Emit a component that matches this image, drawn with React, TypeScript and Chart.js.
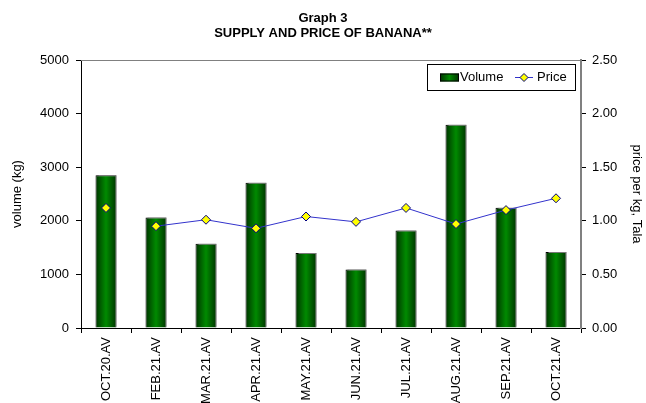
import React, { useEffect, useRef } from "react";
import { Chart, registerables } from "chart.js";

Chart.register(...registerables);

const categories = [
  "OCT.20.AV",
  "FEB.21.AV",
  "MAR.21.AV",
  "APR.21.AV",
  "MAY.21.AV",
  "JUN.21.AV",
  "JUL.21.AV",
  "AUG.21.AV",
  "SEP.21.AV",
  "OCT.21.AV",
];
const volumeKg = [2850, 2060, 1570, 2710, 1400, 1090, 1820, 3790, 2245, 1420];
const priceTala = [1.12, 0.95, 1.01, 0.93, 1.04, 0.99, 1.12, 0.97, 1.1, 1.21];
const volumeTicks = [0, 1000, 2000, 3000, 4000, 5000];
const priceTicks = [0, 0.5, 1, 1.5, 2, 2.5];

const FONT = "Arial, 'Liberation Sans', Helvetica, sans-serif";
const FS = 13;
const BAR_PCT = 0.42;

function barGradient(c: any) {
  if (c.type !== "data") return "#006600";
  const chart = c.chart;
  const xs = chart.scales && chart.scales.x;
  if (!xs || xs.width == null || !chart.chartArea) return "#006600";
  const cx = xs.getPixelForValue(c.dataIndex);
  const half = ((xs.width / categories.length) * BAR_PCT) / 2;
  if (!isFinite(cx)) return "#006600";
  const g = chart.ctx.createLinearGradient(cx - half, 0, cx + half, 0);
  g.addColorStop(0, "#003300");
  g.addColorStop(0.5, "#008a00");
  g.addColorStop(1, "#003300");
  return g;
}

const framePlugin = {
  id: "frame",
  beforeDatasetDraw(chart: any, args: any) {
    if (args.index === 0) {
      const ctx = chart.ctx;
      ctx.save();
      ctx.shadowColor = "rgba(150,150,150,0.8)";
      ctx.shadowOffsetX = 2;
      ctx.shadowOffsetY = -1;
      ctx.shadowBlur = 0;
    }
  },
  afterDatasetDraw(chart: any, args: any) {
    if (args.index === 0) chart.ctx.restore();
  },
  beforeDatasetsDraw(chart: any) {
    const { ctx, chartArea } = chart;
    ctx.save();
    ctx.strokeStyle = "#808080";
    ctx.lineWidth = 1;
    ctx.beginPath();
    ctx.moveTo(chartArea.left, chartArea.top + 0.5);
    ctx.lineTo(chartArea.right, chartArea.top + 0.5);
    ctx.stroke();
    ctx.restore();
  },
  afterDraw(chart: any) {
    const { ctx } = chart;
    const bx = 427;
    const by = 64;
    const bw = 148;
    const bh = 26;
    ctx.save();
    ctx.fillStyle = "#ffffff";
    ctx.fillRect(bx, by, bw, bh);
    ctx.strokeStyle = "#000000";
    ctx.lineWidth = 1;
    ctx.strokeRect(bx + 0.5, by + 0.5, bw, bh);
    const cy = by + bh / 2 + 0.5;
    const g = ctx.createLinearGradient(440, 0, 459, 0);
    g.addColorStop(0, "#003300");
    g.addColorStop(0.5, "#008a00");
    g.addColorStop(1, "#003300");
    ctx.fillStyle = g;
    ctx.fillRect(440, cy - 4, 19, 8);
    ctx.strokeStyle = "#000000";
    ctx.strokeRect(440.5, cy - 3.5, 18, 7);
    ctx.fillStyle = "#000000";
    ctx.font = FS + "px " + FONT;
    ctx.textBaseline = "middle";
    ctx.textAlign = "left";
    ctx.fillText(chart.data.datasets[0].label, 460, cy);
    ctx.strokeStyle = "#3333cc";
    ctx.beginPath();
    ctx.moveTo(515, cy);
    ctx.lineTo(533, cy);
    ctx.stroke();
    ctx.fillStyle = "#ffff00";
    ctx.strokeStyle = "#000080";
    ctx.beginPath();
    ctx.moveTo(524, cy - 4);
    ctx.lineTo(528, cy);
    ctx.lineTo(524, cy + 4);
    ctx.lineTo(520, cy);
    ctx.closePath();
    ctx.fill();
    ctx.stroke();
    ctx.fillStyle = "#000000";
    ctx.fillText(chart.data.datasets[1].label, 537, cy);
    ctx.restore();
  },
};

export default function App() {
  const ref = useRef<HTMLCanvasElement | null>(null);

  useEffect(() => {
    document.body.style.margin = "0";
    const canvas = ref.current;
    if (!canvas) return;
    const chart = new Chart(canvas, {
      type: "bar",
      data: {
        labels: categories,
        datasets: [
          {
            type: "bar",
            label: "Volume",
            data: volumeKg,
            yAxisID: "y",
            backgroundColor: barGradient as any,
            borderColor: "#000000",
            borderWidth: 1,
            barPercentage: BAR_PCT,
            categoryPercentage: 1,
            order: 2,
          },
          {
            type: "line",
            label: "Price",
            data: priceTala,
            yAxisID: "y1",
            borderColor: "#3333cc",
            borderWidth: 1,
            pointStyle: "rectRot",
            pointRadius: 4.5,
            pointBackgroundColor: "#ffff00",
            pointBorderColor: "#000080",
            pointBorderWidth: 1,
            tension: 0,
            order: 1,
            segment: {
              borderColor: (s: any) => (s.p0DataIndex === 0 ? "rgba(0,0,0,0)" : "#3333cc"),
            },
          } as any,
        ],
      },
      options: {
        responsive: false,
        animation: false,
        devicePixelRatio: 1,
        layout: { padding: 0 },
        plugins: {
          legend: { display: false },
          tooltip: { enabled: false },
          title: {
            display: true,
            text: ["Graph 3", "SUPPLY AND PRICE OF BANANA**"],
            color: "#000000",
            font: { family: FONT, size: FS, weight: "bold", lineHeight: 1.154 },
            padding: { top: 11, bottom: 19 },
          },
        },
        scales: {
          x: {
            type: "category",
            offset: true,
            afterFit: (s: any) => {
              s.height = 75;
            },
            border: { color: "#000000", width: 1 },
            grid: {
              offset: true,
              drawOnChartArea: false,
              drawTicks: true,
              tickLength: 5,
              color: "#000000",
            },
            ticks: {
              color: "#000000",
              font: { family: FONT, size: FS },
              minRotation: 90,
              maxRotation: 90,
              autoSkip: false,
              padding: 4,
            },
          },
          y: {
            position: "left",
            min: 0,
            max: 5000,
            afterFit: (s: any) => {
              s.width = 81;
            },
            afterBuildTicks: (s: any) => {
              s.ticks = volumeTicks.map((v) => ({ value: v }));
            },
            border: { color: "#000000", width: 1 },
            grid: {
              drawOnChartArea: false,
              drawTicks: true,
              tickLength: 5,
              color: "#000000",
            },
            ticks: {
              color: "#000000",
              font: { family: FONT, size: FS },
              padding: 7,
              callback: (v: any) => String(v),
            },
            title: {
              display: true,
              text: "volume (kg)",
              color: "#000000",
              font: { family: FONT, size: FS },
              padding: { top: 9.7, bottom: 0 },
            },
          },
          y1: {
            position: "right",
            min: 0,
            max: 2.5,
            afterFit: (s: any) => {
              s.width = 65;
            },
            afterBuildTicks: (s: any) => {
              s.ticks = priceTicks.map((v) => ({ value: v }));
            },
            border: { color: "#808080", width: 2 },
            grid: {
              drawOnChartArea: false,
              drawTicks: true,
              tickLength: 5,
              color: "#000000",
            },
            ticks: {
              color: "#000000",
              font: { family: FONT, size: FS },
              padding: 6,
              callback: (v: any) => Number(v).toFixed(2),
            },
            title: {
              display: true,
              text: "price per kg, Tala",
              color: "#000000",
              font: { family: FONT, size: FS },
              padding: { top: 1.2, bottom: 0 },
            },
          },
        },
      },
      plugins: [framePlugin],
    });
    return () => chart.destroy();
  }, []);

  return (
    <div style={{ position: "absolute", left: 0, top: 0, width: 646, height: 403, background: "#ffffff" }}>
      <canvas ref={ref} width={646} height={403} style={{ display: "block" }} />
    </div>
  );
}
